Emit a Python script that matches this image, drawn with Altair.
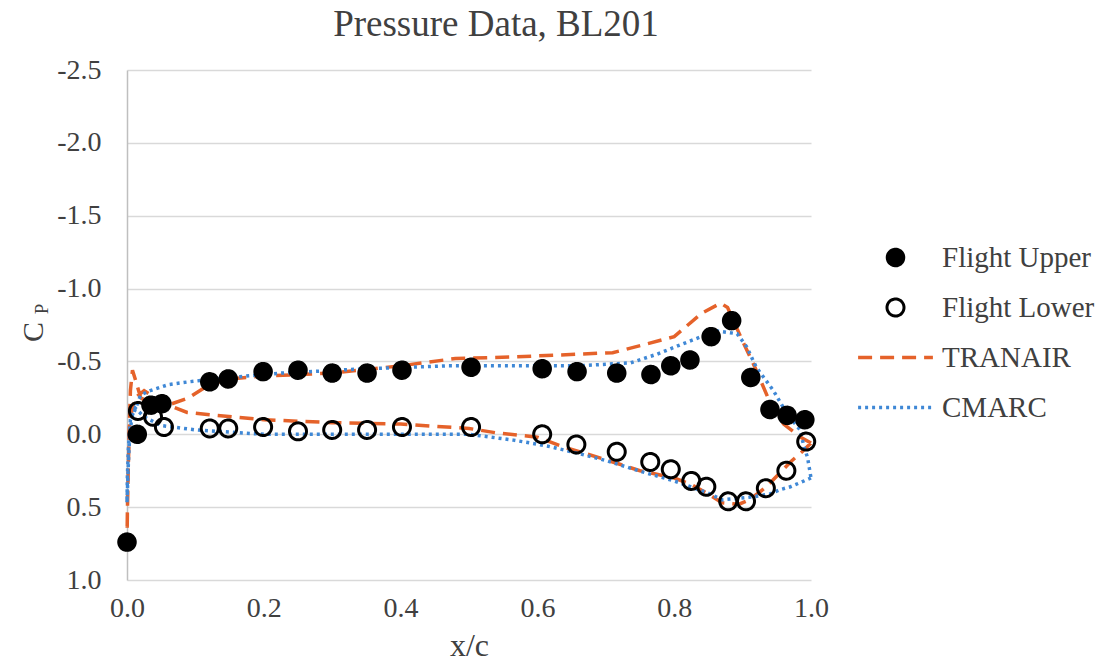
import altair as alt
import pandas as pd

# Measured flight pressure coefficients, BL201
upper_x = [0.0, 0.015, 0.035, 0.051, 0.121, 0.148, 0.199, 0.25, 0.3, 0.351, 0.402,
           0.503, 0.607, 0.658, 0.716, 0.766, 0.795, 0.823, 0.854, 0.884, 0.912,
           0.94, 0.965, 0.991]
upper_cp = [0.74, 0.0, -0.2, -0.21, -0.36, -0.38, -0.43, -0.44, -0.42, -0.42, -0.44,
            -0.46, -0.45, -0.43, -0.42, -0.41, -0.47, -0.51, -0.67, -0.78, -0.39,
            -0.17, -0.13, -0.10]

lower_x = [0.016, 0.038, 0.054, 0.121, 0.148, 0.199, 0.25, 0.3, 0.351, 0.402, 0.503,
           0.607, 0.657, 0.716, 0.765, 0.795, 0.825, 0.847, 0.879, 0.905, 0.934,
           0.964, 0.993]
lower_cp = [-0.16, -0.12, -0.05, -0.04, -0.04, -0.05, -0.02, -0.03, -0.03, -0.05, -0.05,
            0.0, 0.07, 0.12, 0.19, 0.24, 0.32, 0.36, 0.46, 0.46, 0.37, 0.25, 0.05]

# TRANAIR prediction, traced TE -> lower surface -> LE -> upper surface -> TE
tranair_x = [1.0, 0.987, 0.97, 0.935, 0.91, 0.895, 0.87, 0.85, 0.823, 0.8, 0.75,
             0.69, 0.64, 0.6, 0.54, 0.5, 0.4, 0.3, 0.2, 0.13, 0.088, 0.05, 0.025,
             0.012, 0.004, 0.002, 0.0005, 0.0,
             0.001, 0.003, 0.005, 0.008, 0.012, 0.02, 0.04, 0.06, 0.09, 0.12, 0.15,
             0.2, 0.3, 0.4, 0.48, 0.56, 0.66, 0.71, 0.76, 0.8, 0.84, 0.868, 0.878,
             0.9, 0.918, 0.94, 0.96, 0.985, 1.0]
tranair_cp = [0.06, 0.12, 0.19, 0.36, 0.45, 0.48, 0.47, 0.41, 0.34, 0.30, 0.25,
              0.16, 0.09, 0.02, -0.01, -0.04, -0.07, -0.08, -0.10, -0.13, -0.15, -0.22, -0.30,
              -0.25, -0.10, 0.2, 0.55, 0.74,
              0.4, 0.0, -0.3, -0.44, -0.38, -0.25, -0.2, -0.2, -0.25, -0.34, -0.38,
              -0.40, -0.42, -0.47, -0.52, -0.53, -0.55, -0.56, -0.62, -0.67, -0.83, -0.90, -0.87,
              -0.64, -0.46, -0.22, -0.07, 0.02, 0.06]

# CMARC prediction, same traversal
cmarc_x = [1.0, 0.97, 0.955, 0.94, 0.915, 0.87, 0.848, 0.8, 0.755, 0.7, 0.65, 0.614,
           0.565, 0.5, 0.3, 0.2, 0.1, 0.05, 0.025, 0.012, 0.005, 0.002, 0.0005, 0.0,
           0.002, 0.004, 0.007, 0.02, 0.034, 0.06, 0.09, 0.15, 0.225, 0.35, 0.468,
           0.66, 0.736, 0.775, 0.823, 0.862, 0.892, 0.906, 0.92, 0.945, 0.965, 0.984,
           0.99, 0.995, 1.0]
cmarc_cp = [0.30, 0.36, 0.38, 0.41, 0.43, 0.45, 0.40, 0.32, 0.26, 0.18, 0.12, 0.08,
            0.04, 0.0, 0.0, 0.0, -0.03, -0.06, -0.12, -0.18, -0.10, 0.10, 0.30, 0.47,
            0.2, 0.0, -0.11, -0.27, -0.30, -0.34, -0.36, -0.39, -0.42, -0.45, -0.47,
            -0.47, -0.49, -0.55, -0.64, -0.71, -0.69, -0.60, -0.46, -0.30, -0.14, -0.03,
            0.09, 0.16, 0.30]

series = ["Flight Upper", "Flight Lower", "TRANAIR", "CMARC"]
ORANGE = "#E5622A"
BLUE = "#3F88D6"
FONT = "Liberation Serif"
TEXT = "#404040"
# long horizontal stroke used as the legend key for the two predictions
LINE_KEY = "M-4.4,0H4.4"

flight = pd.concat([
    pd.DataFrame({"x": upper_x, "cp": upper_cp, "series": "Flight Upper"}),
    pd.DataFrame({"x": lower_x, "cp": lower_cp, "series": "Flight Lower"}),
])
tranair = pd.DataFrame({"x": tranair_x, "cp": tranair_cp, "i": range(len(tranair_x))})
cmarc = pd.DataFrame({"x": cmarc_x, "cp": cmarc_cp, "i": range(len(cmarc_x))})

x_enc = alt.X("x:Q", scale=alt.Scale(domain=[0, 1], nice=False),
              axis=alt.Axis(values=[0, 0.2, 0.4, 0.6, 0.8, 1.0], format=".1f",
                            grid=False, domain=False, ticks=False, title="x/c",
                            labelFlush=False, labelPadding=14, titlePadding=8))
y_ticks = [-2.5, -2.0, -1.5, -1.0, -0.5, 0.0, 0.5, 1.0]
y_enc = alt.Y("cp:Q", scale=alt.Scale(domain=[-2.5, 1.0], reverse=True, nice=False),
              axis=alt.Axis(values=y_ticks, grid=True, ticks=False, title=None,
                            domain=True, domainColor="#BFBFBF", domainWidth=1.5,
                            labelFlush=False, labelPadding=26,
                            labelExpr="datum.value < 0 ? '-' + format(-datum.value, '.1f') : format(datum.value, '.1f')"))

tranair_line = alt.Chart(tranair).mark_line(
    color=ORANGE, strokeWidth=3.5, strokeDash=[14, 8]
).encode(x=x_enc, y=y_enc, order="i:Q")

cmarc_line = alt.Chart(cmarc).mark_line(
    color=BLUE, strokeWidth=3.5, strokeDash=[3, 4]
).encode(x=x_enc, y=y_enc, order="i:Q")

points = alt.Chart(flight).mark_point(opacity=1, size=289).encode(
    x=x_enc, y=y_enc,
    shape=alt.Shape("series:N", scale=alt.Scale(domain=series, range=["circle", "circle", LINE_KEY, LINE_KEY]), title=None),
    fill=alt.Fill("series:N", scale=alt.Scale(domain=series, range=["black", "transparent", "transparent", "transparent"]), title=None),
    stroke=alt.Stroke("series:N", scale=alt.Scale(domain=series, range=["black", "black", ORANGE, BLUE]), title=None,
                      legend=alt.Legend(orient="none", legendX=754, legendY=173, rowPadding=20,
                                        labelFontSize=29, labelFont=FONT, labelColor=TEXT,
                                        labelOffset=32, symbolOffset=0, symbolSize=289)),
    strokeDash=alt.StrokeDash("series:N", scale=alt.Scale(domain=series, range=[[1, 0], [1, 0], [14, 8], [3, 4]]), title=None),
    strokeWidth=alt.StrokeWidth("series:N", scale=alt.Scale(type="ordinal", domain=series, range=[2.5, 3, 3.5, 3.5]), title=None),
)

c_label = alt.Chart(pd.DataFrame({"t": ["C"]})).mark_text(
    font=FONT, fontSize=30, color=TEXT, angle=270, align="center", baseline="middle"
).encode(text="t:N", x=alt.value(-93), y=alt.value(262))
p_label = alt.Chart(pd.DataFrame({"t": ["P"]})).mark_text(
    font=FONT, fontSize=19, color=TEXT, angle=270, align="center", baseline="middle"
).encode(text="t:N", x=alt.value(-85), y=alt.value(239))

chart = alt.layer(tranair_line, cmarc_line, points, c_label, p_label).properties(
    width=684, height=510,
    title=alt.TitleParams("Pressure Data, BL201", font=FONT, fontSize=37, fontWeight="normal",
                          color=TEXT, anchor="middle", dx=27, offset=12),
    autosize=alt.AutoSizeParams(type="none"),
    padding={"left": 127, "top": 70, "right": 290, "bottom": 84},
).configure_view(stroke=None).configure_axis(
    labelFont=FONT, labelFontSize=28, labelColor=TEXT,
    titleFont=FONT, titleFontSize=32, titleColor=TEXT, titleFontWeight="normal",
    gridColor="#D9D9D9", gridWidth=1.5,
)

chart.save("out.html", embed_options={"renderer": "svg", "actions": False})
